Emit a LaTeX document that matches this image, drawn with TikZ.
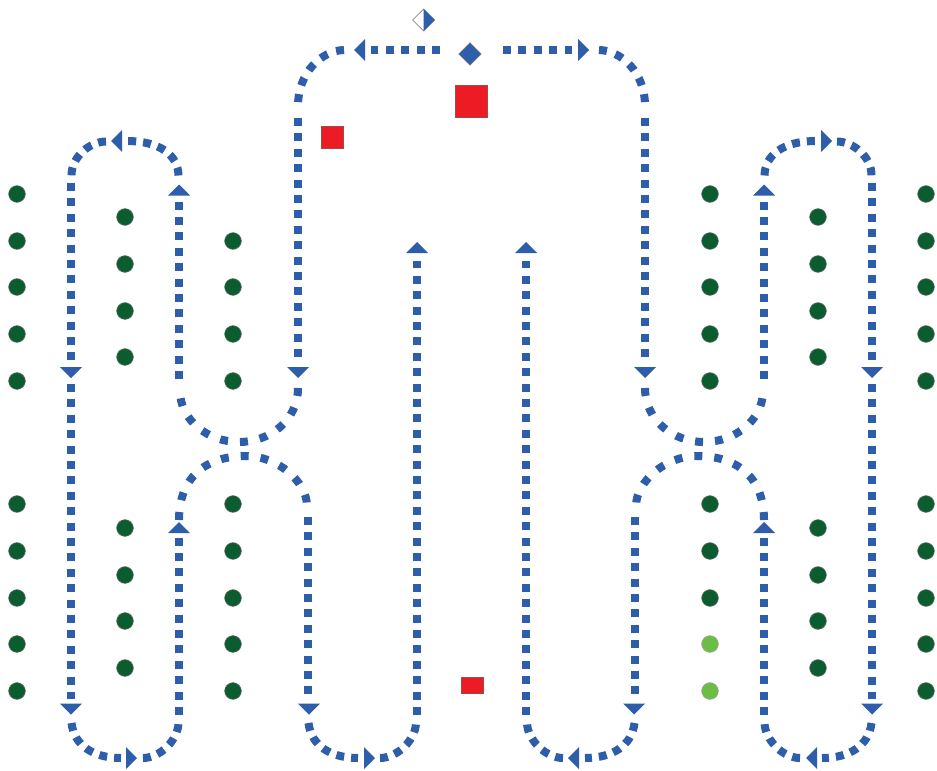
\documentclass[tikz,border=0pt]{standalone}
\usetikzlibrary{shapes.geometric}
\definecolor{routeblue}{HTML}{2E5DA9}
\definecolor{darkdot}{HTML}{0B5C2E}
\definecolor{lightdot}{HTML}{6CBD45}
\definecolor{redbox}{HTML}{ED1C24}
\tikzset{
  x=0.75pt,y=-0.75pt,
  route/.style={draw=routeblue,line width=6pt,line cap=butt},
  straightdots/.style={route,dash pattern=on 6pt off 5.55pt},
  capdots/.style={route,dash pattern=on 6pt off 5.25pt},
  topdots/.style={route,dash pattern=on 6pt off 6.75pt},
  waistdots/.style={route,dash pattern=on 6pt off 9pt},
  station/.style={circle,draw=black!55,line width=0.4pt,fill=darkdot,minimum size=12.6pt,inner sep=0pt},
  lightstation/.style={station,fill=lightdot,draw=black!35},
  redsq/.style={rectangle,draw=red!45!black!70,line width=0.5pt,fill=redbox,inner sep=0pt},
  bluediam/.style={diamond,aspect=1,draw=black!55,line width=0.4pt,fill=routeblue,minimum size=17pt,inner sep=0pt},
  whitediam/.style={diamond,aspect=1,draw=black!45,line width=0.5pt,fill=white,minimum size=16.5pt,inner sep=0pt},
}
\newcommand{\adown}[2]{\fill[routeblue] ({#1-11},{#2-5.5})--({#1+11},{#2-5.5})--(#1,{#2+5.5})--cycle;}
\newcommand{\aup}[2]{\fill[routeblue] ({#1-11},{#2+5.5})--({#1+11},{#2+5.5})--(#1,{#2-5.5})--cycle;}
\newcommand{\aleft}[2]{\fill[routeblue] ({#1+5.5},{#2-11})--({#1+5.5},{#2+11})--({#1-5.5},#2)--cycle;}
\newcommand{\aright}[2]{\fill[routeblue] ({#1-5.5},{#2-11})--({#1-5.5},{#2+11})--({#1+5.5},#2)--cycle;}
\newcommand{\halfroutes}{%
  % top run
  \draw[straightdots] (440,50)--(371,50);
  \aleft{359.5}{50}
  \draw[topdots] (344,50) .. controls (322,50.5) and (298,72) .. (298,106);
  \draw[straightdots] (298,118)--(298,358);
  \adown{298}{372.5}
  % waist
  \draw[waistdots] (298,388) .. controls (298,420) and (270,442) .. (239,442)
     .. controls (208,442) and (180,420) .. (180,391);
  \draw[straightdots] (179,379)--(179,202);
  \aup{179}{190}
  % upper cap
  \draw[capdots] (178.5,175.5) .. controls (178,155) and (160,141) .. (126.5,141);
  \aleft{116.5}{141}
  \draw[capdots] (106,141.5) .. controls (90,141.5) and (71,157) .. (71.5,176);
  % outer run
  \draw[straightdots] (71,183)--(71,361);
  \adown{71}{372.5}
  \draw[straightdots] (71,384)--(71,699);
  \adown{71}{709}
  % first bottom bend
  \draw[capdots] (71.5,723) .. controls (74,745) and (93,758) .. (121,758);
  \aright{131.5}{758}
  \draw[capdots] (143,758) .. controls (160,758) and (178,740) .. (178.5,723);
  \draw[straightdots] (179,715)--(179,536);
  \aup{179}{527.5}
  % lower cap
  \draw[waistdots] (179,520) .. controls (179,478) and (205,456) .. (246,456)
     .. controls (278,456) and (307,482) .. (307,506);
  \draw[straightdots] (308,517)--(308,695);
  \adown{309}{709}
  % second bottom bend
  \draw[capdots] (308.5,723) .. controls (311,745) and (330,758) .. (358,758);
  \aright{369.5}{758}
  \draw[capdots] (380,758) .. controls (397,758) and (415.5,740) .. (416,723);
  \draw[straightdots] (417,715)--(417,261);
  \aup{417}{247.5}
}
\begin{document}
\begin{tikzpicture}
\useasboundingbox (0,0) rectangle (937,770);
\fill[white] (0,0) rectangle (937,770);
\begin{scope}\halfroutes\end{scope}
\begin{scope}[shift={(943,0)},xscale=-1]\halfroutes\end{scope}
% stations: long columns
\foreach \cx/\cn in {17/a,233/c,926/f}{
  \foreach \cy in {504,551,598,644,691}{\node[station] (s\cn\cy) at (\cx,\cy) {};}
}
\foreach \cx/\cn in {17/a,710/d,926/f}{
  \foreach \cy in {194}{\node[station] (s\cn\cy) at (\cx,\cy) {};}
}
\foreach \cx/\cn in {17/a,233/c,710/d,926/f}{
  \foreach \cy in {241,287,334,381}{\node[station] (s\cn\cy) at (\cx,\cy) {};}
}
\foreach \cx/\cn in {125/b,818/e}{
  \foreach \cy in {217,264,311,357,528,575,621,668}{\node[station] (s\cn\cy) at (\cx,\cy) {};}
}
\foreach \cy in {504,551,598}{\node[station] (sd\cy) at (710,\cy) {};}
\foreach \cy in {644,691}{\node[lightstation] (sd\cy) at (710,\cy) {};}
% red boxes
\node[redsq,minimum width=23.6pt,minimum height=23.6pt] (bigred) at (471.5,101.5) {};
\node[redsq,minimum width=16.5pt,minimum height=16pt] (smallred) at (332.5,137.5) {};
\node[redsq,minimum width=16.5pt,minimum height=12pt] (lowred) at (472,685) {};
% diamonds
\node[bluediam] (maindiam) at (470,54) {};
\node[whitediam] (halfdiam) at (423.5,20) {};
\fill[routeblue] (halfdiam.north)--(halfdiam.east)--(halfdiam.south)--cycle;
\end{tikzpicture}
\end{document}
